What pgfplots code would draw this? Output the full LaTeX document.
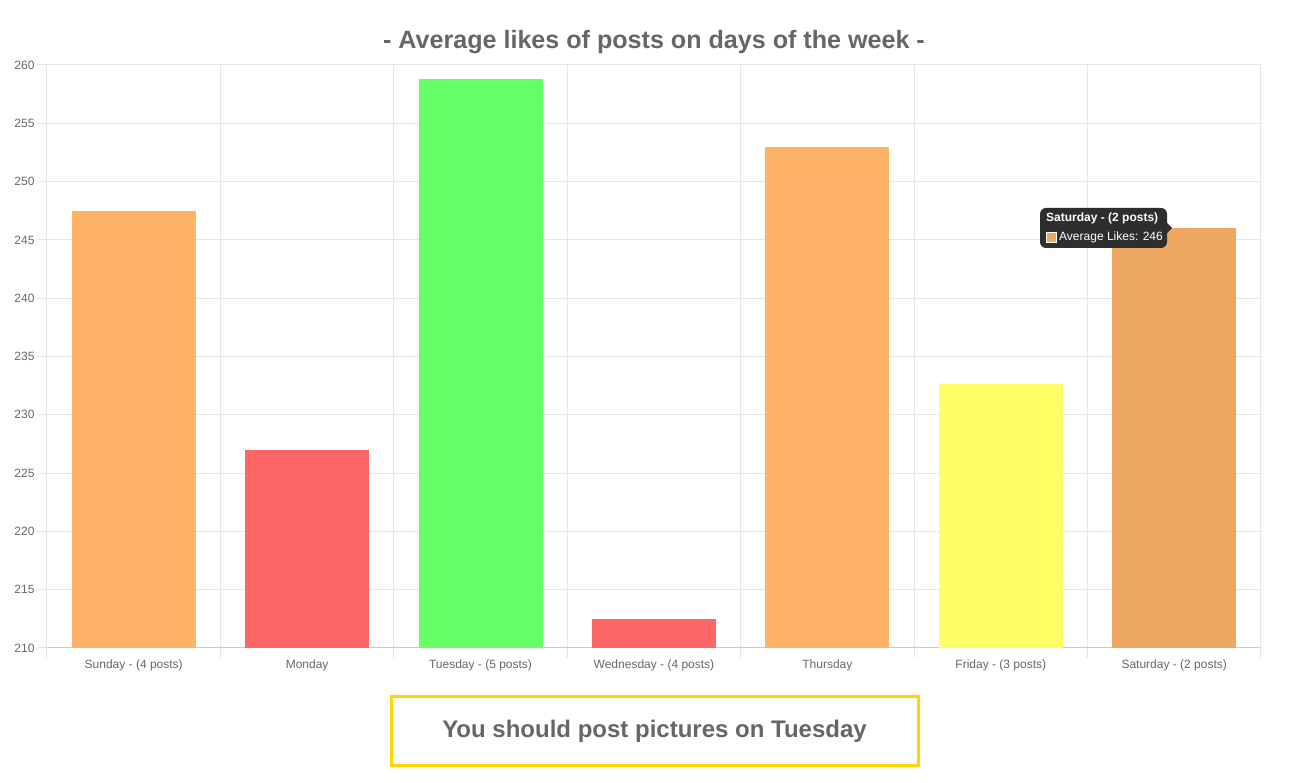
\documentclass[border=0pt]{standalone}
\usepackage{fontspec}
\setmainfont{Liberation Sans}
\usepackage{pgfplots}
\pgfplotsset{compat=1.18}

\definecolor{txtgray}{HTML}{666666}
\definecolor{gridgray}{HTML}{E6E6E6}
\definecolor{axgray}{HTML}{C8C8C8}
\definecolor{barorange}{HTML}{FFB366}
\definecolor{barred}{HTML}{FF6666}
\definecolor{bargreen}{HTML}{66FF66}
\definecolor{baryellow}{HTML}{FFFF66}
\definecolor{barsat}{HTML}{EFA862}
\definecolor{tipbg}{HTML}{2E2E2E}
\definecolor{boxyellow}{HTML}{FFD700}

\begin{document}
\begin{tikzpicture}
% canvas: 1px = 1pt, origin at the lower left corner of the plot area
\useasboundingbox (-47pt,-135pt) rectangle (1260pt,648pt);
\begin{axis}[
    at={(0pt,0pt)}, anchor=south west,
    scale only axis,
    width=1214pt, height=583pt,
    xmin=-0.5, xmax=6.5,
    ymin=210, ymax=260,
    ytick={210,215,...,260},
    xtick={0,...,6},
    xticklabels={Sunday - (4 posts), Monday, Tuesday - (5 posts), Wednesday - (4 posts), Thursday, Friday - (3 posts), Saturday - (2 posts)},
    minor xtick={-0.5,0.5,...,6.5},
    xminorgrids=true, ymajorgrids=true,
    grid style={draw=gridgray, line width=1pt},
    minor grid style={draw=gridgray, line width=1pt},
    axis lines*=left,
    axis line style={draw=axgray, line width=1pt},
    y axis line style={draw=gridgray},
    tick align=outside,
    major tick length=10pt,
    minor tick length=10pt,
    major x tick style={draw=none},
    minor x tick style={draw=gridgray, line width=1pt},
    major y tick style={draw=gridgray, line width=1pt},
    tick label style={font=\fontsize{12}{14}\selectfont, text=txtgray},
    /pgf/number format/assume math mode=true,
    yticklabel style={xshift=1pt},
    xticklabel style={yshift=2pt},
    ybar, bar width=0.715,
    every axis plot/.append style={bar shift=0pt, draw=none},
]
\addplot[fill=barorange] coordinates {(0,247.5)};
\addplot[fill=barred] coordinates {(1,227.0)};
\addplot[fill=bargreen] coordinates {(2,258.8)};
\addplot[fill=barred] coordinates {(3,212.5)};
\addplot[fill=barorange] coordinates {(4,253.0)};
\addplot[fill=baryellow] coordinates {(5,232.6)};
\addplot[fill=barsat] coordinates {(6,246.0)};
\end{axis}

% title
\node[font=\fontsize{25.1}{29}\selectfont\bfseries, text=txtgray] at (607pt,606pt)
  {- Average likes of posts on days of the week -};

% tooltip
\fill[tipbg, rounded corners=6pt] (993pt,400pt) rectangle (1120pt,440pt);
\fill[tipbg] (1119pt,426pt) -- (1125pt,420pt) -- (1119pt,414pt) -- cycle;
\node[anchor=west, font=\fontsize{12}{14}\selectfont\bfseries, text=white, inner sep=0pt]
  at (999pt,430pt) {Saturday - (2 posts)};
\fill[barsat, draw=white, line width=0.8pt] (999pt,406pt) rectangle (1009pt,416pt);
\node[anchor=west, font=\fontsize{12}{14}\selectfont, text=white, inner sep=0pt]
  at (1012pt,411pt) {Average Likes: 246};

% bottom box
\draw[boxyellow, line width=3pt] (344pt,-118pt) rectangle (871pt,-49pt);
\node[font=\fontsize{24}{28}\selectfont\bfseries, text=txtgray] at (607.5pt,-83pt)
  {You should post pictures on Tuesday};
\end{tikzpicture}
\end{document}
